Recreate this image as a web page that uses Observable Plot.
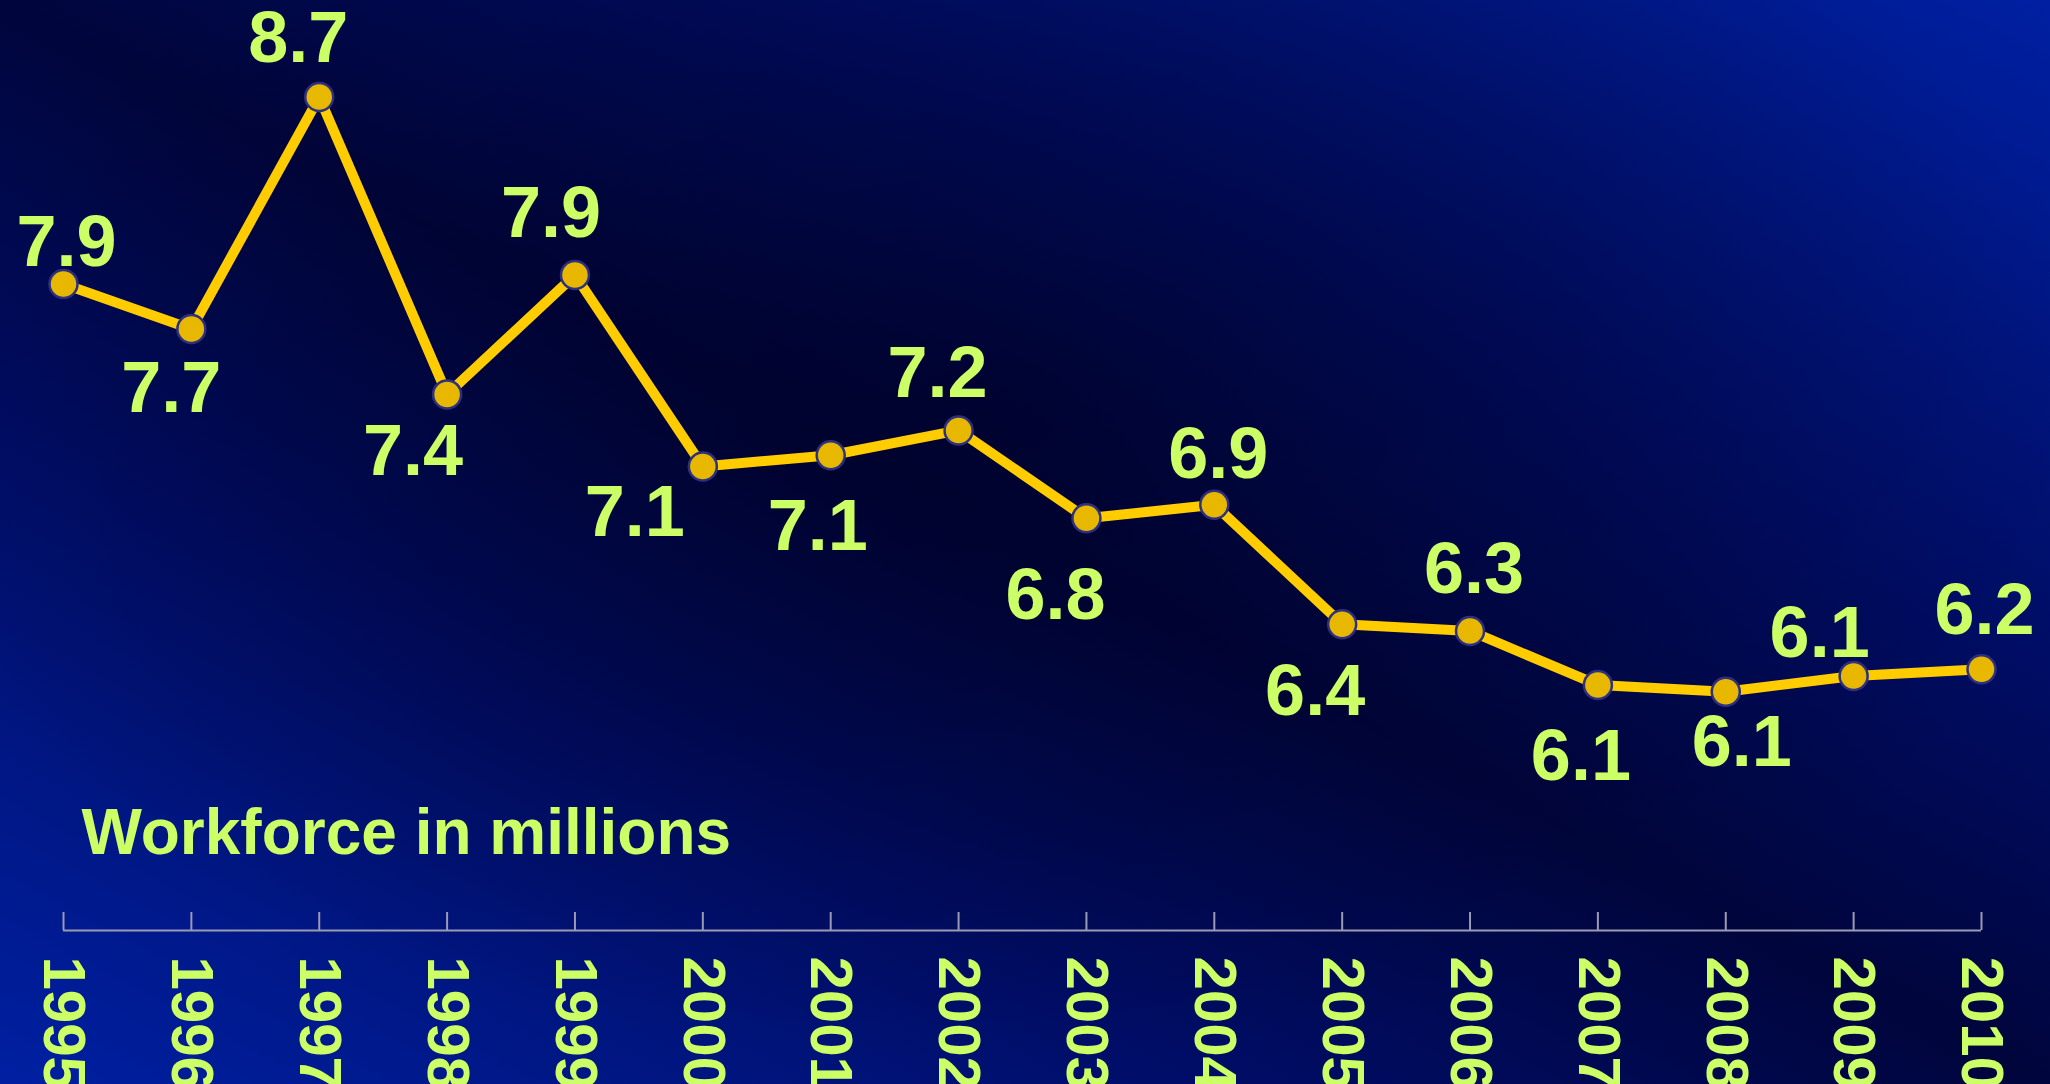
<!DOCTYPE html>
<html>
<head>
<meta charset="utf-8">
<script src="https://cdn.jsdelivr.net/npm/d3@7"></script>
<script src="https://cdn.jsdelivr.net/npm/@observablehq/plot@0.6"></script>
<style>
  html, body { margin: 0; padding: 0; width: 2050px; height: 1084px; overflow: hidden; }
  body {
    background:
      radial-gradient(ellipse 55% 60% at 48% 38%, rgba(0,0,30,0.55) 0%, rgba(0,0,30,0) 100%),
      linear-gradient(to top right, #0020a2 0%, #000d66 30%, #00053c 50%, #000d66 70%, #0020a2 100%);
  }
  #chart svg { display: block; }
</style>
</head>
<body>
<div id="chart"></div>
<script>
// ---- data ----
const years = ["1995","1996","1997","1998","1999","2000","2001","2002","2003","2004","2005","2006","2007","2008","2009","2010"];
const workforce = [7.87, 7.67, 8.70, 7.38, 7.91, 7.06, 7.11, 7.22, 6.83, 6.89, 6.36, 6.33, 6.09, 6.06, 6.13, 6.16];
const valueLabels = ["7.9","7.7","8.7","7.4","7.9","7.1","7.1","7.2","6.8","6.9","6.4","6.3","6.1","6.1","6.1","6.2"];
const title = "Workforce in millions";

// ---- label placement (nudges in px) ----
const labelDx = [3, -20, -21, -34, -24, -68, -13, -21, -31, 4, -27, 4, -17, 16, -34, 3];
const labelDy = [-41, 60, -58, 58, -61, 46, 72, -56, 78, -50, 68, -61, 72, 51, -42, -58];

const data = years.map((y, i) => ({year: y, value: workforce[i], label: valueLabels[i]}));

const W = 2050, H = 1084;
const mTop = 29, mBottom = 154, mLeft = 63, mRight = 69;
const frameH = H - mTop - mBottom;
const textColor = "#CCFF66";
const axisColor = "#9a9ab4";
const font = "'Liberation Sans', Arial, sans-serif";

const labelMarks = data.map((d, i) => Plot.text([d], {
  x: "year", y: "value", text: "label",
  dx: labelDx[i], dy: labelDy[i],
  lineAnchor: "middle", textAnchor: "middle",
  fontSize: 72, fontWeight: "bold", fill: textColor
}));

const chart = Plot.plot({
  width: W, height: H,
  marginTop: mTop, marginBottom: mBottom, marginLeft: mLeft, marginRight: mRight,
  style: {background: "transparent", fontFamily: font, overflow: "hidden"},
  x: {type: "point", domain: years, padding: 0, round: false},
  y: {domain: [5, 9], axis: null},
  marks: [
    Plot.ruleY([5], {stroke: axisColor, strokeWidth: 2}),
    Plot.ruleX(years, {x: d => d, stroke: axisColor, strokeWidth: 2, insetTop: frameH - 18}),
    Plot.axisX({tickSize: 0, tickRotate: 90, tickPadding: 26, fontSize: 60, fontWeight: "bold", fill: textColor, label: null}),
    Plot.text([title], {text: d => d, frameAnchor: "bottom-left", textAnchor: "start", lineAnchor: "middle",
      dx: 18, dy: -97, fontSize: 64, fontWeight: "bold", fill: textColor}),
    Plot.line(data, {x: "year", y: "value", stroke: "#FFCC00", strokeWidth: 10}),
    Plot.dot(data, {x: "year", y: "value", r: 14, fill: "#E8B800", stroke: "#2c3080", strokeWidth: 2.5}),
    ...labelMarks
  ]
});
document.getElementById("chart").appendChild(chart);
</script>
</body>
</html>
